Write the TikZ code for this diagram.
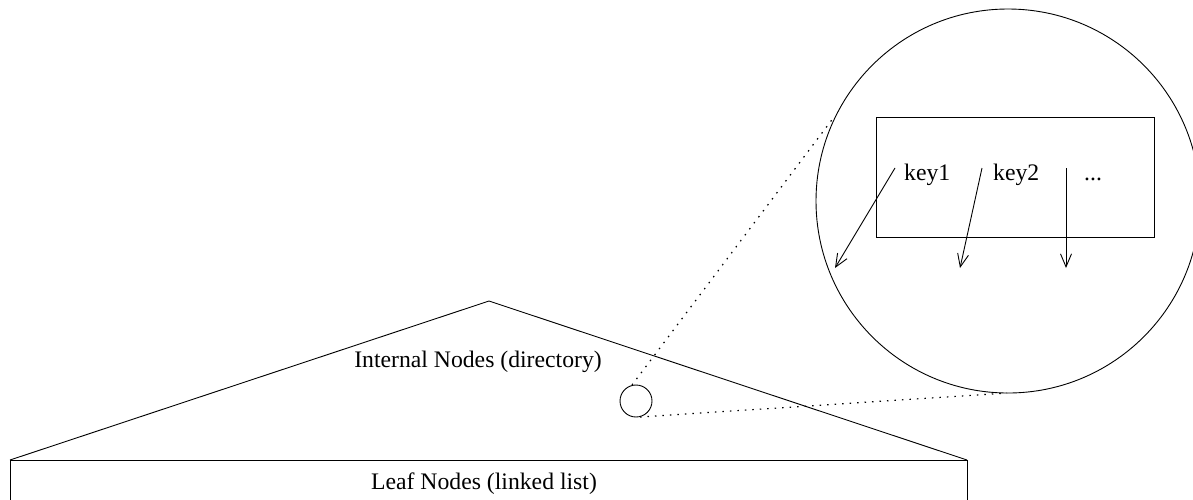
\documentclass[tikz,border=0pt]{standalone}
\usepackage{fontspec}
\setmainfont{Liberation Serif}
\usetikzlibrary{arrows.meta}
\begin{document}
\begin{tikzpicture}[x=1pt,y=-1pt,
  line/.style={line width=0.9pt},
  dots/.style={line width=1.2pt,dash pattern=on 1.5pt off 6pt},
  ptr/.style={line width=0.9pt,-{Straight Barb[length=13pt,width=11pt]}},
  lbl/.style={font=\fontsize{23.7}{26}\selectfont,inner sep=0pt}]
\clip (0,0) rectangle (1193,499);
% tree triangle and leaf list
\coordinate (apex) at (489,301);
\coordinate (bl) at (10,460);
\coordinate (br) at (967,460);
\draw[line] (bl) -- (apex) -- (br);
\draw[line] (10,515) |- (br) -- (967,515);
\node[lbl] (internal) at (478,362) {Internal Nodes (directory)};
\node[lbl] (leaf) at (484,484) {Leaf Nodes (linked list)};
% small circle
\node[draw,line,circle,minimum size=32pt,inner sep=0pt] (small) at (636,401) {};
% big zoom circle
\node[draw,line,circle,minimum size=384pt,inner sep=0pt] (big) at (1008,201) {};
% dotted zoom lines
\coordinate (s1) at (632,385);
\coordinate (s2) at (640,417);
\coordinate (b1) at (834,117);
\coordinate (b2) at (1007,393);
\draw[dots] (s1) -- (b1);
\draw[dots] (s2) -- (b2);
% internal node box
\node[draw,line,minimum width=278pt,minimum height=120pt,inner sep=0pt] (box) at (1015,177) {};
\node[lbl,anchor=base west] (k1) at (904,180) {key1};
\node[lbl,anchor=base west] (k2) at (993,180) {key2};
\node[lbl,anchor=base west] (k3) at (1084,180) {...};
\coordinate (p1s) at (895,168);
\coordinate (p1e) at (835,268);
\coordinate (p2s) at (982,168);
\coordinate (p2e) at (960,268);
\coordinate (p3s) at (1066,168);
\coordinate (p3e) at (1066,268);
\draw[ptr] (p1s) -- (p1e);
\draw[ptr] (p2s) -- (p2e);
\draw[ptr] (p3s) -- (p3e);
\end{tikzpicture}
\end{document}
